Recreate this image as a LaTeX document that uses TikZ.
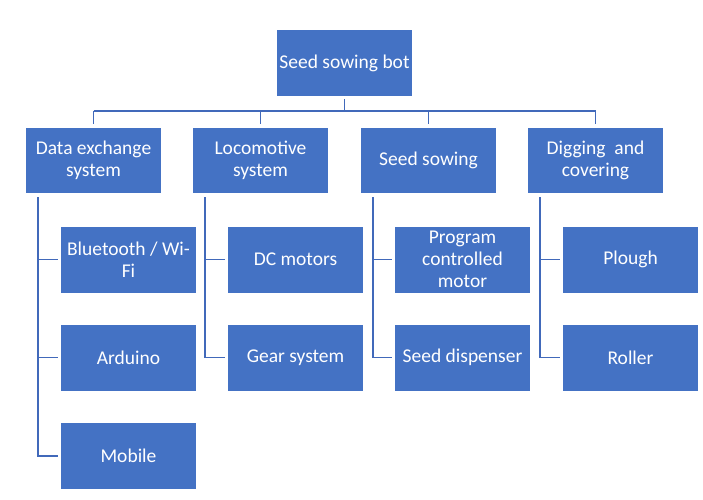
\documentclass[tikz,border=0pt]{standalone}
\usepackage{fontspec}
\setmainfont{Carlito}
\usetikzlibrary{calc}
\definecolor{boxblue}{HTML}{4472C4}
\definecolor{lineblue}{HTML}{4169BA}
\tikzset{
  box/.style={draw=none, fill=boxblue, text=white, minimum width=135pt, minimum height=66pt,
    inner sep=0pt, align=center, font=\fontsize{19.5}{22}\selectfont},
  conn/.style={draw=lineblue, line width=1.8pt}
}
\begin{document}
\begin{tikzpicture}[x=1pt,y=1pt]
\useasboundingbox (0,0) rectangle (703,-499);
\node[box] (root) at (344.5,-63) {Seed sowing bot};
\node[box, minimum height=65pt] (l1) at (93.5,-160.5) {Data exchange\\system};
\node[box, minimum height=65pt] (l2) at (260.5,-160.5) {Locomotive\\system};
\node[box, minimum height=65pt] (l3) at (428.5,-160.5) {Seed sowing};
\node[box, minimum height=65pt] (l4) at (595.5,-160.5) {Digging\ \ and\\covering};
\node[box] (c11) at (128.5,-259.5) {Bluetooth / Wi-\\Fi};
\node[box] (c12) at (128.5,-357.5) {Arduino};
\node[box] (c13) at (128.5,-456) {Mobile};
\node[box] (c21) at (295.5,-259.5) {DC motors};
\node[box] (c22) at (295.5,-357.5) {Gear system};
\node[box] (c31) at (462.5,-259.5) {Program\\controlled\\motor};
\node[box] (c32) at (462.5,-357.5) {Seed dispenser};
\node[box] (c41) at (630.5,-259.5) {Plough};
\node[box] (c42) at (630.5,-357.5) {Roller};
% top bar
\coordinate (bar) at (344.5,-111);
\draw[conn, shorten <=3pt] (root.south) -- (bar);
\draw[conn] (l1.north |- bar) -- (l4.north |- bar);
\foreach \i in {1,2,3,4}{
  \draw[conn, shorten >=4pt] (l\i.north |- bar) -- (l\i.north);
}
% spines
\foreach \p/\last in {1/c13, 2/c22, 3/c32, 4/c42}{
  \coordinate (s\p) at ($(l\p.south west)+(12,-4)$);
  \draw[conn] (s\p) |- ($(\last.west)+(-3,0)$);
}
\foreach \p/\c in {1/c11, 1/c12, 2/c21, 3/c31, 4/c41}{
  \draw[conn, shorten >=3pt] (s\p |- \c.west) -- (\c.west);
}
\end{tikzpicture}
\end{document}
